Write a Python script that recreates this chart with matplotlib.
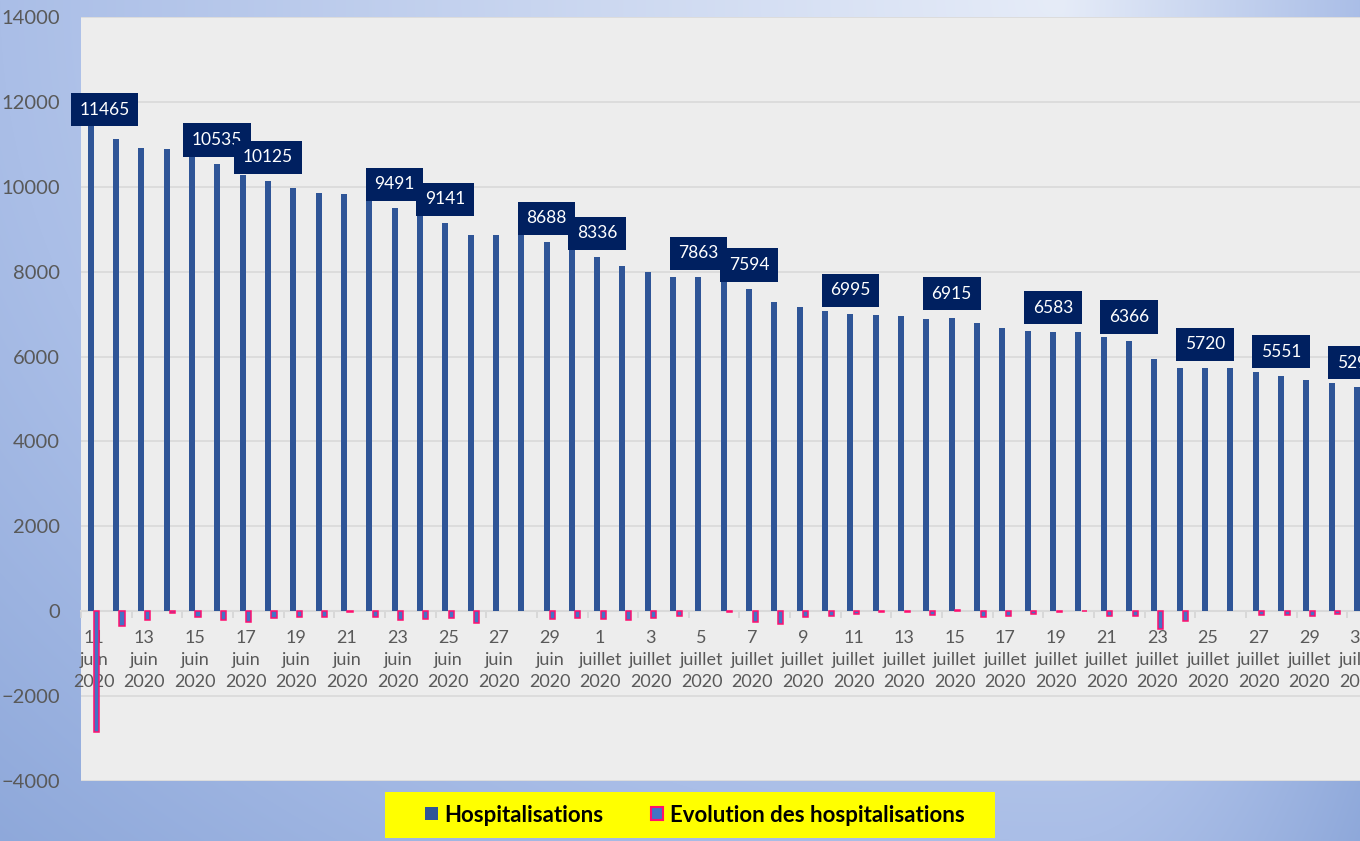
import matplotlib.pyplot as plt
import numpy as np
import pandas as pd
from matplotlib.patches import Patch, Rectangle

plt.rcParams['font.family'] = ['Lato', 'DejaVu Sans']

# Données : hospitalisations du 11 juin au 31 juillet 2020
dates = pd.date_range("2020-06-11", "2020-07-31", freq="D")
mois = {6: "juin", 7: "juillet"}

hospitalisations = [
    11465, 11116, 10913, 10880, 10745, 10535, 10273, 10125, 9980, 9846,
    9820, 9694, 9491, 9307, 9141, 8870, 8870, 8870, 8688, 8530,
    8336, 8138, 7981, 7863, 7863, 7850, 7594, 7297, 7171, 7069,
    6995, 6985, 6961, 6875, 6915, 6789, 6679, 6608, 6583, 6590,
    6467, 6366, 5942, 5720, 5720, 5720, 5636, 5551, 5440, 5369,
    5294,
]
evolution = [
    -2850, -349, -203, -33, -135, -210, -262, -148, -145, -134,
    -26, -126, -203, -184, -166, -271, 0, 0, -182, -158,
    -194, -198, -157, -118, 0, -13, -256, -297, -126, -102,
    -74, -10, -24, -86, 40, -126, -110, -71, -25, 7,
    -123, -101, -424, -222, 0, 0, -84, -85, -111, -71,
    -75,
]
# jours dont la valeur est affichée
jours_etiquetes = [0, 5, 7, 12, 14, 18, 20, 24, 26, 30, 34, 38, 41, 44, 47, 50]

labels_x = [f"{d.day}\n{mois[d.month]}\n{d.year}" for d in dates]
x = np.arange(len(dates))

fig = plt.figure(figsize=(13.6, 8.41), dpi=100)

# Fond dégradé bleu
h, w = 841, 1360
yy, xx = np.mgrid[0:1:h * 1j, 0:1:w * 1j]
cx = 0.78
sx = np.where(xx < cx, cx, 1 - cx)
t = np.sqrt(((xx - cx) / sx) ** 2 + yy ** 2)
stops = [0, 1, 1.42]
cols = np.array([[230, 236, 248], [170, 190, 231], [142, 168, 218]]) / 255
grad = np.dstack([np.interp(t, stops, cols[:, k]) for k in range(3)])
bg = fig.add_axes([0, 0, 1, 1], zorder=-2)
bg.imshow(grad, aspect="auto", extent=(0, 1, 0, 1))
bg.axis("off")

ax = fig.add_axes([81 / 1360, 60 / 841, 1279 / 1360, 764 / 841])
ax.set_facecolor("#ededed")

ax.bar(x - 0.12, hospitalisations, width=0.237, color="#2f5597", zorder=3)
ax.bar(x + 0.12, evolution, width=0.2, color="#4472c4",
       edgecolor="#ff0f6f", linewidth=[0 if v == 0 else 1.1 for v in evolution],
       zorder=3)

# Étiquettes de valeurs
for i in jours_etiquetes:
    dx, dy = (14, 7) if i == 0 else (0, 16)
    ax.annotate(str(hospitalisations[i]), (x[i] - 0.12, hospitalisations[i]),
                xytext=(dx, dy), textcoords="offset pixels",
                ha="center", va="bottom", color="white", fontsize=12.5,
                bbox=dict(boxstyle="square,pad=0.5", fc="#002060", ec="none"),
                zorder=5, annotation_clip=False)

ax.set_xlim(-0.5, 50.0)
ax.set_ylim(-4000, 14000)
ax.set_yticks(range(-4000, 14001, 2000))
ax.set_xticks(x[::2])
ax.set_xticklabels(labels_x[::2])
ax.set_xticks(np.arange(-0.5, len(x), 2), minor=True)

ax.tick_params(axis="x", which="major", length=0, pad=13.5, labelsize=13,
               labelcolor="#595959")
ax.tick_params(axis="x", which="minor", length=5, color="#d4d4d4", width=1.2)
ax.tick_params(axis="y", length=0, pad=15, labelsize=14.5, labelcolor="#595959")

ax.yaxis.grid(True, color="#d9d9d9", linewidth=1.2)
ax.set_axisbelow(True)
for s in ["left", "right", "top"]:
    ax.spines[s].set_visible(False)
ax.spines["bottom"].set_position(("data", 0))
ax.spines["bottom"].set_color("#d9d9d9")
ax.spines["bottom"].set_linewidth(1.5)

# Légende sur fond jaune
fig.patches.append(Rectangle((385 / 1360, 3 / 841), 610 / 1360, 46 / 841,
                             transform=fig.transFigure, fc="#ffff00", ec="none"))
handles = [Patch(fc="#2f5597"),
           Patch(fc="#4472c4", ec="#ff0f6f", lw=1.5)]
fig.legend(handles, ["Hospitalisations", "Evolution des hospitalisations"],
           loc="center", bbox_to_anchor=(695 / 1360, 26 / 841), ncol=2,
           frameon=False, prop={"family": "Lato", "weight": "bold", "size": 16},
           handlelength=0.55, handleheight=0.55, handletextpad=0.32,
           columnspacing=2.1)

# interligne des dates (après création des ticks)
fig.canvas.draw()
for lab in ax.get_xticklabels():
    lab.set_linespacing(1.45)

fig.savefig("out.png", dpi=100)
